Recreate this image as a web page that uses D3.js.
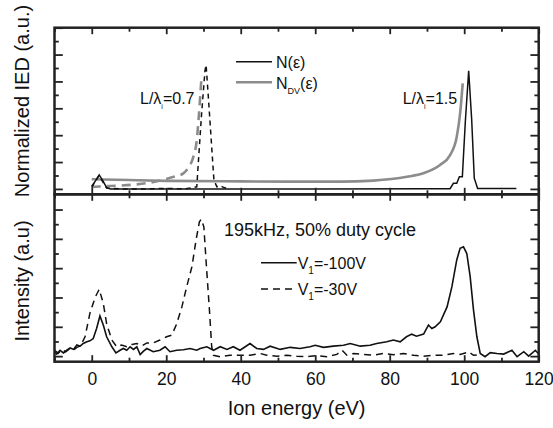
<!DOCTYPE html>
<html>
<head>
<meta charset="utf-8">
<style>
  body { margin: 0; background: #fff; }
  svg text { font-family: "Liberation Sans", Arial, sans-serif; fill: #111; }
  .tick line { stroke: #222; stroke-width: 1.8; }
  .tick text { font-size: 17.5px; fill: #111; }
</style>
<script src="https://d3js.org/d3.v7.min.js"></script>
</head>
<body>
<script>
// ---- data (energy in eV, intensity in axis units) ----
// top panel: L/lambda = 1.5 (solid) and 0.7 (dashed); black = N, gray = N_DV
const topNsolidE = [0, 1, 2, 3, 4, 5, 10, 30, 60, 90, 96.2, 97.1, 98, 98.7, 99.5, 100.3, 101.2, 102, 102.7, 103.6, 114];
const topNsolidV = [0.1, 0.3, 0.52, 0.3, 0.05, 0.0, 0.0, 0.0, 0.0, 0.01, 0.01, 0.21, 0.21, 0.45, 0.45, 2.5, 4.4, 2.6, 0.4, 0.02, 0.02];

const topNdashE = [0, 1, 2, 3, 4, 8, 15, 20, 25, 28.2, 28.6, 29.5, 30.4, 30.7, 31.3, 32.2, 32.8, 33.6, 34.5, 35.5, 37];
const topNdashV = [0.05, 0.3, 0.5, 0.25, 0.03, 0.0, 0.0, 0.02, 0.0, 0.08, 0.95, 2.81, 4.4, 4.61, 3.43, 1.57, 0.33, 0.08, 0.12, 0.05, 0.0];

const topDVsolidE = [0, 10, 20, 40, 60, 66.7, 75.6, 84.6, 89, 93.5, 96.2, 98, 98.9, 99.6];
const topDVsolidV = [0.36, 0.33, 0.3, 0.28, 0.27, 0.27, 0.31, 0.45, 0.58, 0.89, 1.26, 1.94, 2.81, 3.93];

const topDVdashE = [0, 2, 5, 8, 12, 15, 20, 22, 24.6, 26, 27.3, 28.2, 28.8, 29.5];
const topDVdashV = [0.07, 0.09, 0.11, 0.13, 0.17, 0.22, 0.37, 0.45, 0.58, 0.8, 1.2, 1.82, 2.81, 4.24];

// bottom panel: measured IED, 195 kHz
const botSolidE = [-10, -9.4, -8.5, -7.6, -6.7, -5.8, -4.9, -4, -3.1, -2.3, -1.3, -0.5, 0.4, 1.3, 2.2, 3.1, 4, 5.4, 6.5, 7.6, 8.5, 9.4, 10.3, 11.2, 12.1, 13, 13.9, 14.8, 16.5, 18.3, 19.7, 21, 22.8, 24.6, 26.4, 28.2, 29.1, 30.9, 32.7, 34.5, 36.3, 38, 39.8, 42.5, 44.3, 46.1, 47.9, 50.6, 53.3, 55.9, 58.6, 60, 62.2, 64.9, 67.6, 69.4, 72.1, 74.7, 76.5, 79.2, 81, 82.8, 84.5, 85.9, 87.2, 89.1, 90.4, 91.3, 92.2, 93.6, 95.4, 96.7, 98, 98.9, 99.8, 100.7, 101.6, 102.5, 103.4, 104.3, 105.6, 107, 108.8, 110.6, 112.8, 114.2, 116, 117.3, 119.1, 120];
const botSolidV = [0.15, 0.07, 0.2, 0.11, 0.2, 0.28, 0.23, 0.38, 0.34, 0.43, 0.49, 0.52, 0.6, 0.94, 1.37, 1.06, 0.66, 0.32, 0.11, 0.2, 0.26, 0.2, 0.32, 0.23, 0.32, 0.05, 0.17, 0.26, 0.15, 0.2, 0.32, 0.15, 0.2, 0.22, 0.26, 0.2, 0.26, 0.32, 0.2, 0.32, 0.23, 0.32, 0.2, 0.43, 0.26, 0.23, 0.34, 0.23, 0.3, 0.26, 0.32, 0.37, 0.3, 0.34, 0.37, 0.43, 0.34, 0.37, 0.43, 0.49, 0.55, 0.49, 0.66, 0.75, 0.68, 0.75, 1.06, 0.94, 1.0, 1.17, 1.68, 2.37, 3.28, 3.68, 3.73, 3.5, 2.71, 1.57, 0.66, 0.09, -0.02, 0.12, 0.09, 0.07, 0.2, -0.02, 0.15, 0.0, 0.2, 0.07];

const botDashE = [-10, -9, -8, -7, -6, -5, -4, -3, -1.8, -0.5, 0.9, 2.0, 3.1, 4, 5.4, 6.7, 8, 9.4, 10.8, 12.1, 13.5, 14.8, 16.5, 18.3, 20.1, 21.5, 22.8, 24.2, 25.5, 26.9, 28, 28.9, 29.4, 30.1, 30.8, 31.6, 32.2, 32.7, 34.5, 37.1, 39.8, 42.5, 45.2, 47, 49.7, 52.4, 55, 57.7, 60.4, 63.1, 65.8, 67.2, 68.5, 70.3, 73, 75.6, 78.3, 81, 83.7, 86.4, 89.1, 91.8, 94.4, 97.1, 98.9, 100.7, 101.2, 102.5, 104];
const botDashV = [0.2, 0.1, 0.22, 0.15, 0.25, 0.2, 0.3, 0.35, 0.66, 1.46, 2.0, 2.28, 1.8, 1.1, 0.55, 0.32, 0.38, 0.32, 0.4, 0.43, 0.35, 0.45, 0.45, 0.55, 0.66, 0.72, 1.1, 1.68, 2.37, 3.05, 3.96, 4.58, 4.67, 4.41, 3.05, 1.57, 0.32, 0.03, -0.02, 0.03, 0.03, 0.03, 0.09, 0.03, 0.0, 0.03, 0.0, -0.02, 0.02, -0.02, 0.06, 0.2, 0.03, 0.09, 0.06, 0.03, 0.09, 0.05, 0.09, 0.03, 0.0, 0.03, 0.03, 0.09, 0.06, 0.12, 0.15, 0.03, 0.05];

const xMajor = [0, 20, 40, 60, 80, 100, 120];
const xMinor = [-10, 10, 30, 50, 70, 90, 110];

const W = 553, H = 428;
const L = 54.5, R = 538.7;
const topT = 27.7, mid = 194.3, botB = 361.7;

const svg = d3.select("body").append("svg")
    .attr("width", W).attr("height", H);

const x = d3.scaleLinear().domain([-10, 120]).range([L, R]);
const yTop = d3.scaleLinear().domain([-0.2, 6]).range([mid, topT]);
const yBot = d3.scaleLinear().domain([-0.19, 5.52]).range([botB, mid]);

function zip(a, b) { return a.map((d, i) => [d, b[i]]); }

// clip paths
const defs = svg.append("defs");
defs.append("clipPath").attr("id", "clipTop").append("rect")
    .attr("x", L).attr("y", topT).attr("width", R - L).attr("height", mid - topT);
defs.append("clipPath").attr("id", "clipBot").append("rect")
    .attr("x", L).attr("y", mid).attr("width", R - L).attr("height", botB - mid);

// ---- curves ----
const lineTop = d3.line().x(d => x(d[0])).y(d => yTop(d[1]));
const lineTopSmooth = d3.line().x(d => x(d[0])).y(d => yTop(d[1])).curve(d3.curveMonotoneX);
const lineBot = d3.line().x(d => x(d[0])).y(d => yBot(d[1]));

const gTop = svg.append("g").attr("clip-path", "url(#clipTop)");
gTop.append("path").datum(zip(topDVsolidE, topDVsolidV))
    .attr("d", lineTopSmooth).attr("fill", "none")
    .attr("stroke", "#8c8c8c").attr("stroke-width", 2.6);
gTop.append("path").datum(zip(topDVdashE, topDVdashV))
    .attr("d", lineTopSmooth).attr("fill", "none")
    .attr("stroke", "#8c8c8c").attr("stroke-width", 2.6)
    .attr("stroke-dasharray", "9,6");
gTop.append("path").datum(zip(topNdashE, topNdashV))
    .attr("d", lineTop).attr("fill", "none")
    .attr("stroke", "#111").attr("stroke-width", 1.5)
    .attr("stroke-dasharray", "5,4");
gTop.append("path").datum(zip(topNsolidE, topNsolidV))
    .attr("d", lineTop).attr("fill", "none")
    .attr("stroke", "#111").attr("stroke-width", 1.5);

const gBot = svg.append("g").attr("clip-path", "url(#clipBot)");
gBot.append("path").datum(zip(botDashE, botDashV))
    .attr("d", lineBot).attr("fill", "none")
    .attr("stroke", "#111").attr("stroke-width", 1.5)
    .attr("stroke-dasharray", "7,5");
gBot.append("path").datum(zip(botSolidE, botSolidV))
    .attr("d", lineBot).attr("fill", "none")
    .attr("stroke", "#111").attr("stroke-width", 1.6);

// ---- axes (inward ticks) ----
function ax(gen, tx, ty, vals, size, labels) {
    const a = gen.tickValues(vals).tickSize(-size).tickPadding(11);
    if (!labels) a.tickFormat("");
    const g = svg.append("g").attr("transform", "translate(" + tx + "," + ty + ")").call(a);
    g.select(".domain").remove();
    return g;
}
const yTopMajor = [0, 1, 2, 3, 4, 5, 6], yTopMinor = [0.5, 1.5, 2.5, 3.5, 4.5, 5.5];
const yBotMajor = [0, 1, 2, 3, 4, 5], yBotMinor = [0.5, 1.5, 2.5, 3.5, 4.5];

// top panel
ax(d3.axisTop(x), 0, topT, xMajor, 6.5);
ax(d3.axisTop(x), 0, topT, xMinor, 4);
ax(d3.axisBottom(x), 0, mid, xMajor, 6.5);
ax(d3.axisBottom(x), 0, mid, xMinor, 4);
ax(d3.axisLeft(yTop), L, 0, yTopMajor, 8.3);
ax(d3.axisLeft(yTop), L, 0, yTopMinor, 4.3);
ax(d3.axisRight(yTop), R, 0, yTopMajor, 8.3);
ax(d3.axisRight(yTop), R, 0, yTopMinor, 4.3);
// bottom panel
ax(d3.axisTop(x), 0, mid, xMajor, 6.5);
ax(d3.axisTop(x), 0, mid, xMinor, 4);
ax(d3.axisBottom(x), 0, botB, xMajor, 6.5, true);
ax(d3.axisBottom(x), 0, botB, xMinor, 4);
ax(d3.axisLeft(yBot), L, 0, yBotMajor, 8.3);
ax(d3.axisLeft(yBot), L, 0, yBotMinor, 4.3);
ax(d3.axisRight(yBot), R, 0, yBotMajor, 8.3);
ax(d3.axisRight(yBot), R, 0, yBotMinor, 4.3);

// frames
svg.append("rect").attr("x", L).attr("y", topT).attr("width", R - L).attr("height", mid - topT)
    .attr("fill", "none").attr("stroke", "#222").attr("stroke-width", 2.5);
svg.append("rect").attr("x", L).attr("y", mid).attr("width", R - L).attr("height", botB - mid)
    .attr("fill", "none").attr("stroke", "#222").attr("stroke-width", 2.5);

// ---- axis titles ----
svg.append("text").attr("x", (L + R) / 2).attr("y", 414.5)
    .attr("text-anchor", "middle").style("font-size", "20px").text("Ion energy (eV)");
svg.append("text").attr("transform", "translate(28.5,101) rotate(-90)")
    .attr("text-anchor", "middle").style("font-size", "20px").text("Normalized IED (a.u.)");
svg.append("text").attr("transform", "translate(28.5,281) rotate(-90)")
    .attr("text-anchor", "middle").style("font-size", "20px").text("Intensity (a.u)");

// ---- legends / annotations ----
function sub(t, main, s, rest, subSize) {
    t.append("tspan").text(main);
    t.append("tspan").attr("dy", 5).style("font-size", subSize + "px").text(s);
    t.append("tspan").attr("dy", -5).text(rest);
}
// top legend
svg.append("line").attr("x1", 236).attr("x2", 272).attr("y1", 61.7).attr("y2", 61.7)
    .attr("stroke", "#111").attr("stroke-width", 1.6);
svg.append("text").attr("x", 276).attr("y", 67.5).style("font-size", "16px").text("N(\u03b5)");
svg.append("line").attr("x1", 236).attr("x2", 272).attr("y1", 82.3).attr("y2", 82.3)
    .attr("stroke", "#8c8c8c").attr("stroke-width", 2.6);
sub(svg.append("text").attr("x", 276).attr("y", 88.5).style("font-size", "16px"), "N", "DV", "(\u03b5)", 9);

sub(svg.append("text").attr("x", 140).attr("y", 103.5).style("font-size", "16px"), "L/\u03bb", "i", "=0.7", 7);
sub(svg.append("text").attr("x", 402.7).attr("y", 103.5).style("font-size", "16px"), "L/\u03bb", "i", "=1.5", 7);

// bottom legend
svg.append("text").attr("x", 224).attr("y", 235.7).style("font-size", "18px").text("195kHz, 50% duty cycle");
svg.append("line").attr("x1", 261).attr("x2", 296.7).attr("y1", 262.7).attr("y2", 262.7)
    .attr("stroke", "#111").attr("stroke-width", 1.6);
sub(svg.append("text").attr("x", 297.7).attr("y", 268.5).style("font-size", "16px"), "V", "1", "=-100V", 10);
svg.append("line").attr("x1", 261).attr("x2", 296.7).attr("y1", 289).attr("y2", 289)
    .attr("stroke", "#111").attr("stroke-width", 1.5).attr("stroke-dasharray", "7,5");
sub(svg.append("text").attr("x", 297.7).attr("y", 295).style("font-size", "16px"), "V", "1", "=-30V", 10);
</script>
</body>
</html>
